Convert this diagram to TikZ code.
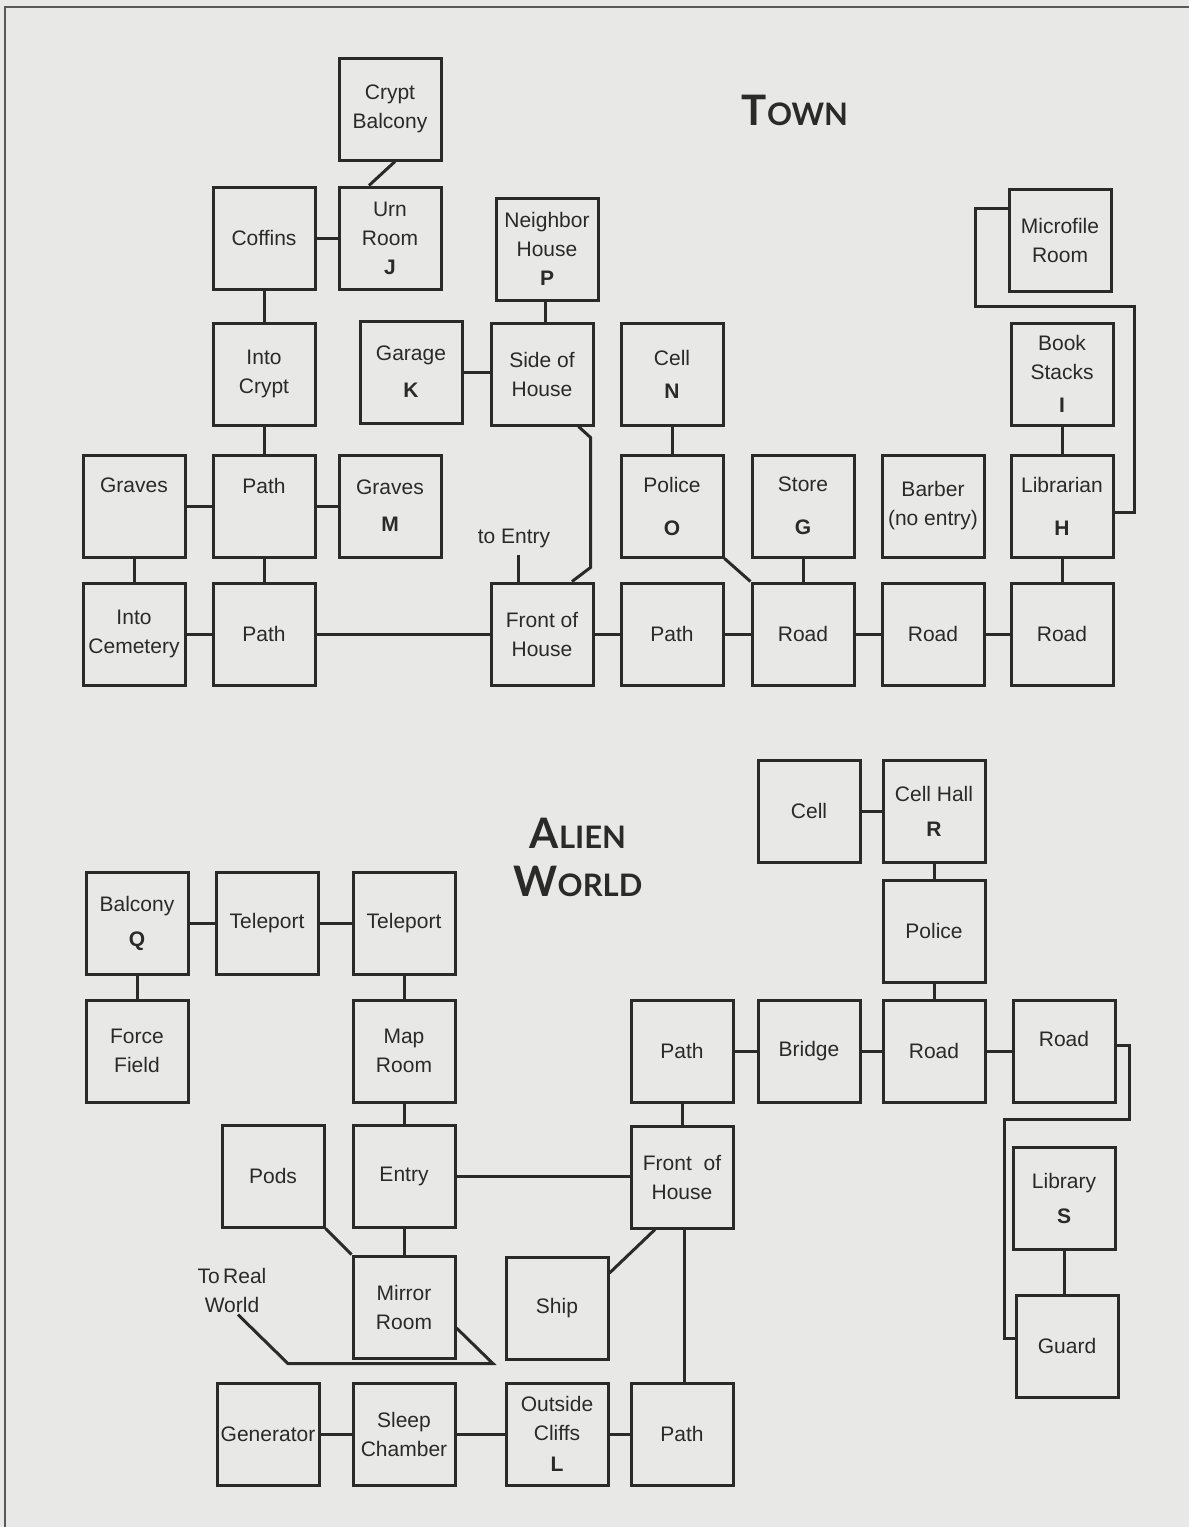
\documentclass[tikz,border=0pt]{standalone}
\usepackage{fontspec}
\setmainfont{Liberation Sans}
\newfontfamily\titlefont{Lato}
\usetikzlibrary{calc}
\definecolor{paper}{HTML}{E8E8E6}
\definecolor{ink}{HTML}{2A2A2A}

\begin{document}
\begin{tikzpicture}[
        x=0.5pt, y=-0.5pt,
        room/.style={
            rectangle,
            draw=ink,
            line width=1.5pt,
            align=center,
            minimum width=51pt,
            minimum height=51pt,
            inner sep=1pt,
            text=ink,
            font=\fontsize{10.5}{14.5}\selectfont
        },
        note/.style={
            align=center,
            inner sep=1pt,
            text=ink,
            font=\fontsize{10.5}{14.5}\selectfont
        },
        heading/.style={
            align=center,
            text=ink,
            font=\titlefont\bfseries\fontsize{21}{24}\selectfont
        },
        link/.style={
            draw=ink,
            line width=1.5pt
        }
    ]

        \fill[paper] (0,0) rectangle (1189,1527);
        \useasboundingbox (0,0) rectangle (1189,1527);
        \draw[black!65, line width=1pt] (5,1527) -- (5,7) -- (1189,7);

        % town
        \node[heading] (town) at (795,110) {T{\fontsize{15.5}{24}\selectfont OWN}};

        \node[room] (cryptbal) at (390,109) {Crypt\\Balcony};
        \node[room] (urn) at (390,238) {Urn\\Room\\\textbf{J}};
        \node[room] (coffins) at (264,238) {Coffins};
        \node[room] (neighbor) at (547,249) {Neighbor\\House\\\textbf{P}};
        \node[room] (micro) at (1060,240) {Microfile\\Room};

        \node[room] (intocrypt) at (264,374) {Into\\Crypt};
        \node[room] (garage) at (411,372) {Garage\\[4pt]\textbf{K}};
        \node[room] (side) at (542,374) {Side of\\House};
        \node[room] (celln) at (672,374) {Cell\\[2pt]\textbf{N}};
        \node[room] (stacks) at (1062,374) {Book\\Stacks\\[2pt]\textbf{I}};

        \node[room] (graves) at (134,506) {Graves\\[6pt]~};
        \node[room] (path1) at (264,506) {Path\\[6pt]~};
        \node[room] (gravesm) at (390,506) {Graves\\[4pt]\textbf{M}};
        \node[room] (police) at (672,506) {Police\\[7pt]\textbf{O}};
        \node[room] (store) at (803,506) {Store\\[7pt]\textbf{G}};
        \node[room] (barber) at (933,506) {Barber\\(no entry)};
        \node[room] (librarian) at (1062,506) {Librarian\\[7pt]\textbf{H}};
        \node[note] (toentry) at (514,538) {to Entry};

        \node[room] (cemetery) at (134,634) {Into\\Cemetery};
        \node[room] (path2) at (264,634) {Path};
        \node[room] (front) at (542,634) {Front of\\House};
        \node[room] (path3) at (672,634) {Path};
        \node[room] (road1) at (803,634) {Road};
        \node[room] (road2) at (933,634) {Road};
        \node[room] (road3) at (1062,634) {Road};

        \draw[link] ([xshift=2.5pt]cryptbal.south) -- ([xshift=-10.5pt]urn.north);
        \draw[link] (coffins) -- (urn);
        \draw[link] (coffins) -- (intocrypt);
        \draw[link] ([xshift=-1pt]neighbor.south) -- ([xshift=-1pt]neighbor.south |- side.north);
        \draw[link] (garage.east) -- (garage.east -| side.west);
        \draw[link] (intocrypt) -- (path1);
        \draw[link] (graves) -- (path1);
        \draw[link] (path1) -- (gravesm);
        \draw[link] (graves) -- (cemetery);
        \draw[link] (path1) -- (path2);
        \draw[link] (celln) -- (police);
        \draw[link] (stacks) -- (librarian);
        \draw[link] (cemetery) -- (path2);
        \draw[link] (path2) -- (front);
        \draw[link] (front) -- (path3);
        \draw[link] (path3) -- (road1);
        \draw[link] (road1) -- (road2);
        \draw[link] (road2) -- (road3);
        \draw[link] (police.south east) -- (road1.north west);
        \draw[link] (store) -- (road1);
        \draw[link] (librarian) -- (road3);
        \draw[link] ([xshift=-8pt]side.south east) -- ++(12,11) -- ++(0,130) -- ([xshift=15pt]front.north);
        \draw[link] ([xshift=-12pt]front.north) -- ++(0,-27);
        \draw[link] ([yshift=16pt]micro.west) -- ++(-32,0) -- ++(0,98) -- ++(159,0) |- ([yshift=-3pt]librarian.east);

        % alien world
        \node[heading] (alien) at (578,857) {A{\fontsize{15.5}{24}\selectfont LIEN}\\W{\fontsize{15.5}{24}\selectfont ORLD}};

        \node[room] (acell) at (809,811) {Cell};
        \node[room] (cellhall) at (934,811) {Cell Hall\\[3pt]\textbf{R}};
        \node[room] (apolice) at (934,931) {Police};

        \node[room] (balcony) at (137,923) {Balcony\\[3pt]\textbf{Q}};
        \node[room] (tele1) at (267,923) {Teleport};
        \node[room] (tele2) at (404,923) {Teleport};

        \node[room] (force) at (137,1051) {Force\\Field};
        \node[room] (maproom) at (404,1051) {Map\\Room};
        \node[room] (apath1) at (682,1051) {Path};
        \node[room] (bridge) at (809,1051) {Bridge};
        \node[room] (aroad1) at (934,1051) {Road};
        \node[room] (aroad2) at (1064,1051) {Road\\[-2pt]~};

        \node[room] (pods) at (273,1176) {Pods};
        \node[room] (entry) at (404,1176) {Entry};
        \node[room] (afront) at (682,1177) {Front\ \ of\\House};
        \node[room] (library) at (1064,1198) {Library\\[3pt]\textbf{S}};

        \node[note] (realworld) at (232,1290) {To\,Real\\World};
        \node[room] (mirror) at (404,1307) {Mirror\\Room};
        \node[room] (ship) at (557,1308) {Ship};
        \node[room] (guard) at (1067,1346) {Guard};

        \node[room] (generator) at (268,1434) {Generator};
        \node[room] (sleep) at (404,1434) {Sleep\\Chamber};
        \node[room] (cliffs) at (557,1434) {Outside\\Cliffs\\[1pt]\textbf{L}};
        \node[room] (apath2) at (682,1434) {Path};

        \draw[link] (acell) -- (cellhall);
        \draw[link] (cellhall) -- (apolice);
        \draw[link] (apolice) -- (aroad1);
        \draw[link] (balcony) -- (tele1);
        \draw[link] (tele1) -- (tele2);
        \draw[link] (balcony) -- (force);
        \draw[link] (tele2) -- (maproom);
        \draw[link] (maproom) -- (entry);
        \draw[link] (apath1) -- (bridge);
        \draw[link] (bridge) -- (aroad1);
        \draw[link] (aroad1) -- (aroad2);
        \draw[link] (apath1) -- (afront);
        \draw[link] (entry.east) -- (entry.east -| afront.west);
        \draw[link] (entry) -- (mirror);
        \draw[link] (pods.south east) -- (mirror.north west);
        \draw[link] ([xshift=-13.5pt]afront.south) -- ([yshift=17.5pt]ship.east);
        \draw[link] ([xshift=1pt]afront.south) -- ([xshift=1pt]afront.south |- apath2.north);
        \draw[link] (library.south) -- (library.south |- guard.north);
        \draw[link] ([yshift=3pt]aroad2.east) -- ++(13,0) -- ++(0,74) -- ++(-125,0) |- ([yshift=4pt]guard.west);
        \draw[link] ([xshift=3pt]realworld.south) -- ++(50,49) -- ++(205,0) -- ([yshift=-10.5pt]mirror.east);
        \draw[link] (generator) -- (sleep);
        \draw[link] (sleep) -- (cliffs);
        \draw[link] (cliffs) -- (apath2);

    \end{tikzpicture}
\end{document}
